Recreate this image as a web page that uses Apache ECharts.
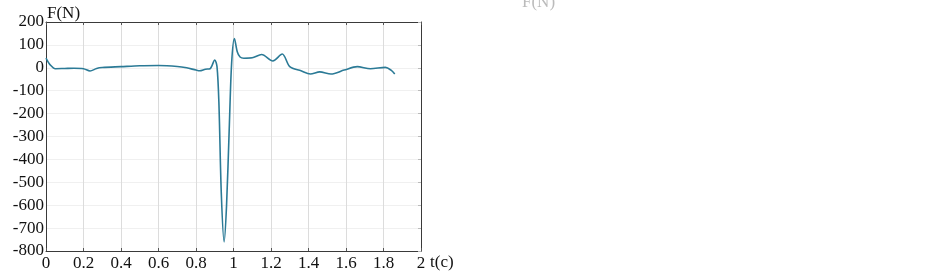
<!DOCTYPE html>
<html><head><meta charset="utf-8">
<script src="https://cdn.jsdelivr.net/npm/echarts@6/dist/echarts.min.js"></script>
<style>html,body{margin:0;padding:0;background:#fff}#c{width:948px;height:278px}</style>
</head><body><div id="c"></div>
<script>
const tValues = [0, 0.02, 0.05, 0.1, 0.15, 0.2, 0.235, 0.27, 0.3, 0.4, 0.5, 0.6, 0.7, 0.75, 0.8, 0.82, 0.85, 0.875, 0.9, 0.912, 0.922, 0.935, 0.95, 0.963, 0.977, 0.99, 1.005, 1.02, 1.035, 1.055, 1.1, 1.15, 1.21, 1.26, 1.3, 1.36, 1.41, 1.46, 1.52, 1.59, 1.66, 1.73, 1.81, 1.84, 1.86];
const fValues = [42, 15, -4, -3, -2, -4, -14, -3, 1, 5, 9, 10, 6, 0, -10, -13, -6, -4, 34, 5, -150, -550, -760, -600, -272, 20, 128, 70, 47, 42, 44, 58, 30, 60, 5, -13, -27, -18, -27, -10, 5, -4, 2, -10, -27];
const xTickLabels = {'0':'0','0.2':'0.2','0.4':'0.4','0.6':'0.6','0.8':'0.8','1':'1','1.2':'1.2','1.4':'1.4','1.6':'1.6','1.8':'1.8','2':'2'};
const yAxisName = 'F(N)';
const xAxisName = 't(c)';

const font = '"Liberation Serif", "Times New Roman", serif';
const chart = echarts.init(document.getElementById('c'), null, {renderer: 'canvas'});
const frame = {show: true, onZero: false, lineStyle: {color: '#3a3a3a', width: 1}};
chart.setOption({
  animation: false,
  grid: {left: 46, top: 22, right: 527, bottom: 27, containLabel: false},
  xAxis: [
    {type: 'value', min: 0, max: 2, interval: 0.2, position: 'bottom',
     axisLine: frame, axisTick: {show: true, inside: true, length: 3, lineStyle: {color: '#555'}},
     splitLine: {show: true, lineStyle: {color: '#dcdcdc', width: 1}},
     axisLabel: {color: '#111', fontFamily: font, fontSize: 17, margin: 4,
       formatter: v => xTickLabels[String(+v.toFixed(1))] ?? ''}},
    {type: 'value', min: 0, max: 2, interval: 0.2, position: 'top',
     axisLine: frame, axisTick: {show: true, inside: true, length: 3, lineStyle: {color: '#555'}},
     splitLine: {show: false}, axisLabel: {show: false}}
  ],
  yAxis: [
    {type: 'value', min: -800, max: 200, interval: 100, position: 'left',
     axisLine: frame, axisTick: {show: false},
     splitLine: {show: true, lineStyle: {color: '#f0f0f0', width: 1}},
     axisLabel: {color: '#111', fontFamily: font, fontSize: 17, margin: 2}},
    {type: 'value', min: -800, max: 200, interval: 100, position: 'right',
     axisLine: frame, axisTick: {show: true, inside: true, length: 3, lineStyle: {color: '#bbb'}},
     splitLine: {show: false}, axisLabel: {show: false}}
  ],
  graphic: [
    {type: 'text', left: 47, top: 5, style: {text: yAxisName, font: '17px ' + font, fill: '#111'}},
    {type: 'text', left: 430, top: 254, style: {text: xAxisName, font: '17px ' + font, fill: '#111'}},
    {type: 'text', left: 522, top: -6, style: {text: yAxisName, font: '17px ' + font, fill: '#bbb'}}
  ],
  series: [{
    type: 'line', xAxisIndex: 0, yAxisIndex: 0,
    data: tValues.map((t, i) => [t, fValues[i]]),
    smooth: 0.3, showSymbol: false,
    lineStyle: {color: '#2b7a96', width: 1.6}
  }]
});
</script></body></html>
